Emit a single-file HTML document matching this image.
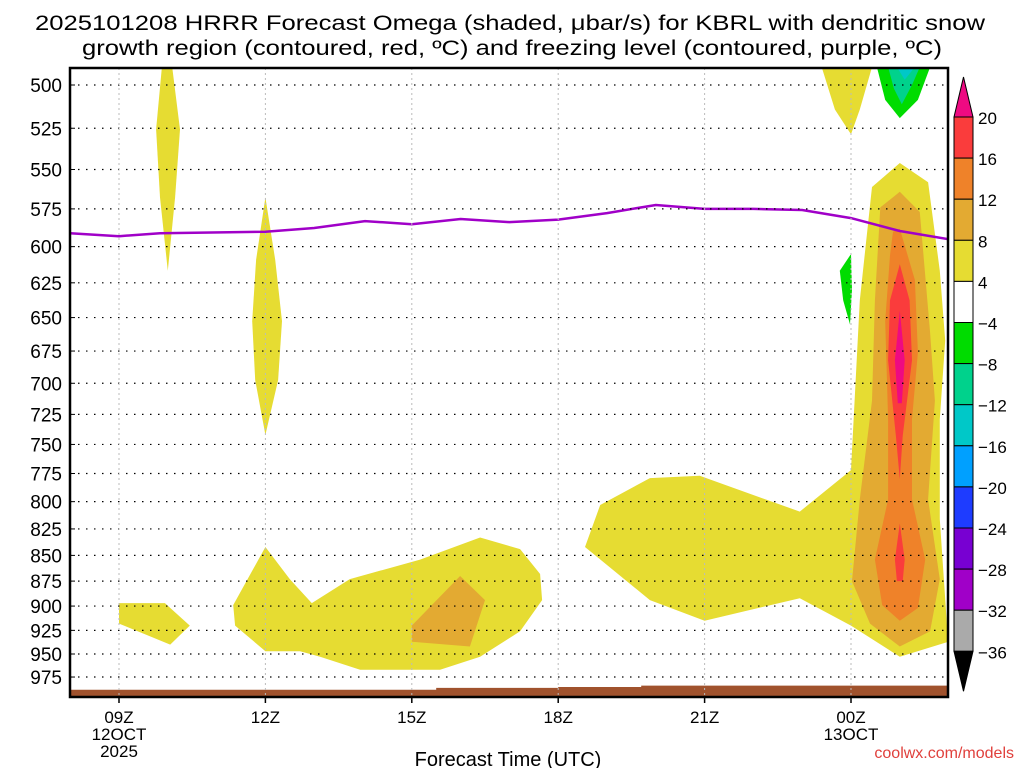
<!DOCTYPE html>
<html><head><meta charset="utf-8">
<style>
html,body{margin:0;padding:0;background:#fff;}
svg{display:block;font-family:"Liberation Sans",sans-serif;}
</style></head>
<body>
<svg id="chart" width="1024" height="768" viewBox="0 0 1024 768" xmlns="http://www.w3.org/2000/svg">
<text x="510" y="30" font-size="21" text-anchor="middle" textLength="950" lengthAdjust="spacingAndGlyphs">2025101208 HRRR Forecast Omega (shaded, μbar/s) for KBRL with dendritic snow</text>
<text x="512" y="55" font-size="21" text-anchor="middle" textLength="860" lengthAdjust="spacingAndGlyphs">growth region (contoured, red, ºC) and freezing level (contoured, purple, ºC)</text>
<g id="plot"></g>
<g id="cbar"></g>
<text x="508" y="766" font-size="20" text-anchor="middle">Forecast Time (UTC)</text>
<text x="1014" y="758" font-size="16" fill="#e0403c" text-anchor="end">coolwx.com/models</text>
</svg>
<script>
// axes data
const pressureTicks = [500,525,550,575,600,625,650,675,700,725,750,775,800,825,850,875,900,925,950,975];
const hourTicks = [9,12,15,18,21,24];
const hourLabels = ["09Z","12Z","15Z","18Z","21Z","00Z"];
const hourSubLabels = [["12OCT","2025"],[],[],[],[],["13OCT"]];
// freezing level (hPa) by forecast hour
const fzHours = [8,9,9.84,12,13,14.04,15,16,17,18,19,20,21,22,23,24,25,26];
const fzPressure = [591,593,591,590,587.5,583,585,581.6,583.6,582,577.7,572.5,575,575,575.7,581,589.5,595];
// ground surface pressure
const sfcHours = [8,15.5,15.5,18,18,19.7,19.7,26];
const sfcPressure = [989,989,987,987,986,986,984.5,984.5];
// omega contour regions: [hour, hPa]
const cYellowA = [[9.88,490],[10.09,490],[10.25,525.7],[10.15,567.6],[10.0,616.5],[9.84,567.6],[9.76,525.7]];
const cYellowB = [[12,567.6],[12.2,609],[12.34,652.6],[12.26,697.6],[12,742],[11.79,697.6],[11.73,652.6],[11.81,609]];
const cYellowC = [[9,897],[9.94,897],[10.45,920],[10.05,940],[9,918]];
const cYellowD = [[11.34,899],[12,842],[12.5,873],[12.95,897],[13.73,873],[15.17,854],[16.4,833],[17.22,844],[17.63,868],[17.67,894],[17.22,926],[16.4,953],[15.58,967],[13.94,967],[13.12,953],[12.71,947],[12,947],[11.38,920]];
const cGoldD = [[15,920],[15.99,870],[16.5,894],[16.19,942],[15,937]];
const cYellowE = [[18.55,842],[18.86,803],[19.88,779],[20.9,777],[22.95,809],[24,772],[24.18,637.5],[24.43,561],[25,546],[25.58,558],[25.82,616.5],[25.93,667],[25.82,729],[25.82,816],[25.99,937],[25,953],[24,920],[22.95,892],[21,915],[19.88,894]];
const cGoldE = [[24.6,574],[25,564],[25.41,577],[25.62,661],[25.72,714],[25.58,798],[25.82,873],[25.62,926],[25,942],[24.39,918],[24.02,875],[24.18,798],[24.43,714],[24.49,637.5]];
const cOrangeE = [[24.86,590],[25,588],[25.31,623],[25.37,676],[25.25,729],[25.25,798],[25.52,854],[25.37,902],[25,915],[24.64,899],[24.49,854],[24.76,798],[24.76,729],[24.7,652.6],[24.8,606]];
const cRedE1 = [[25,612],[25.2,637.5],[25.25,682],[25.06,743],[25,780],[24.92,743],[24.76,682],[24.8,637.5]];
const cRedE2 = [[25,820],[25.1,854],[25.06,875],[24.94,875],[24.9,854]];
const cMagE = [[25,645],[25.1,682],[25.04,716],[24.96,716],[24.9,682]];
const cYellowF = [[23.4,490],[24.43,490],[24.18,514],[24,528.6],[23.67,514]];
const cGreenF = [[24.53,490],[25.62,490],[25.37,508.5],[25,519],[24.7,508.5]];
const cTealF = [[24.76,490],[25.41,490],[25.25,500],[25.04,511],[24.88,502]];
const cCyanF = [[24.94,490],[25.31,490],[25.1,497]];
const cGreenG = [[23.77,616.5],[24,605],[24.02,630],[23.98,655],[23.84,637.5]];

const X0=70,X1=948,Y0=68,Y1=697;
const xs = h => 119 + (h-9)*48.8;
const ys = p => 85 + 886.5*Math.log(p/500);
const NS="http://www.w3.org/2000/svg";
const plot=document.getElementById('plot');
function mk(tag,attrs,parent){const e=document.createElementNS(NS,tag);for(const k in attrs)e.setAttribute(k,attrs[k]);(parent||plot).appendChild(e);return e;}

// clip
const defs=mk('defs',{});
const cp=mk('clipPath',{id:'clip'},defs);
mk('rect',{x:X0,y:Y0,width:X1-X0,height:Y1-Y0},cp);
const gClip=mk('g',{'clip-path':'url(#clip)'});

const regions=[
 [cYellowA,'#e6dc32','omega-4-8-upper-spike'],[cYellowB,'#e6dc32','omega-4-8-midlevel-spike'],
 [cYellowC,'#e6dc32','omega-4-8-small-patch'],[cYellowD,'#e6dc32','omega-4-8-lowlevel-blob'],
 [cGoldD,'#e3aa32','omega-8-12-lowlevel-core'],[cYellowE,'#e6dc32','omega-4-8-right-blob'],
 [cGoldE,'#e3aa32','omega-8-12-right-blob'],[cOrangeE,'#ef8229','omega-12-16-right-blob'],
 [cRedE1,'#fa3c3c','omega-16-20-upper-core'],[cRedE2,'#fa3c3c','omega-16-20-lower-core'],
 [cMagE,'#ee0a82','omega-above-20-core'],[cYellowF,'#e6dc32','omega-4-8-top-patch'],
 [cGreenF,'#00dc00','omega-neg4-neg8-top'],[cTealF,'#00d28c','omega-neg8-neg12-top'],
 [cCyanF,'#00c8c8','omega-neg12-neg16-top'],[cGreenG,'#00dc00','omega-neg4-neg8-small']
];
regions.forEach(r=>{
 const e=mk('polygon',{points:r[0].map(d=>xs(d[0]).toFixed(1)+','+ys(d[1]).toFixed(1)).join(' '),fill:r[1]},gClip);
 
 
});
// grid
pressureTicks.forEach(p=>{
 const l=mk('line',{x1:X0,x2:X1,y1:ys(p),y2:ys(p),stroke:'#000','stroke-width':1.2,'stroke-dasharray':'1.5 6.5'});
 
 
});
hourTicks.forEach(h=>{
 const l=mk('line',{x1:xs(h),x2:xs(h),y1:Y0,y2:Y1,stroke:'#bbb','stroke-width':1,'stroke-dasharray':'2 3'});
 
 
});
// freezing level
const fz=mk('polyline',{points:fzHours.map((h,i)=>xs(h).toFixed(1)+','+ys(fzPressure[i]).toFixed(1)).join(' '),fill:'none',stroke:'#a000c8','stroke-width':2.5},gClip);


// ground
let gp=sfcHours.map((h,i)=>xs(h).toFixed(1)+','+ys(sfcPressure[i]).toFixed(1));
gp.push(xs(26)+','+Y1, xs(8)+','+Y1);
const gr=mk('polygon',{points:gp.join(' '),fill:'#a0522d'},gClip);


// frame
const fr=mk('rect',{x:X0,y:Y0,width:X1-X0,height:Y1-Y0,fill:'none',stroke:'#000','stroke-width':2.5});


// y labels
pressureTicks.forEach(p=>{
 const t=mk('text',{x:62,y:ys(p)+7,'font-size':19,'text-anchor':'end'});
 t.textContent=p;
 
 
 mk('line',{x1:X0,x2:X0+5,y1:ys(p),y2:ys(p),stroke:'#000','stroke-width':1});
});
// x labels
hourTicks.forEach((h,i)=>{
 mk('line',{x1:xs(h),x2:xs(h),y1:Y1,y2:Y1+6,stroke:'#000','stroke-width':1.5});
 const t=mk('text',{x:xs(h),y:723,'font-size':17,'text-anchor':'middle'});
 t.textContent=hourLabels[i];
 
 
 hourSubLabels[i].forEach((s,j)=>{
  const u=mk('text',{x:xs(h),y:740+j*17,'font-size':17,'text-anchor':'middle'});
  u.textContent=s;
  
  
 });
});

// colorbar
const cbLevels=[20,16,12,8,4,-4,-8,-12,-16,-20,-24,-28,-32,-36];
const cbColors=['#fa3c3c','#ef8229','#e3aa32','#e6dc32','#ffffff','#00dc00','#00d28c','#00c8c8','#00a0ff','#1e3cff','#7800d2','#a000c8','#aaaaaa'];
const cbEl=document.getElementById('cbar');
const CX=954,CW=19,CT=117,CS=41.1;
function mkc(tag,attrs){return mk(tag,attrs,cbEl);}
const cbTop=mkc('polygon',{points:`${CX},${CT} ${CX+CW},${CT} ${CX+CW/2},${CT-40}`,fill:'#ee0a82',stroke:'#000','stroke-width':1});


cbColors.forEach((c,i)=>{
 const r=mkc('rect',{x:CX,y:CT+i*CS,width:CW,height:CS,fill:c,stroke:'#000','stroke-width':1});
 
 
});
const yb=CT+cbColors.length*CS;
const cbBot=mkc('polygon',{points:`${CX},${yb} ${CX+CW},${yb} ${CX+CW/2},${yb+40}`,fill:'#000',stroke:'#000','stroke-width':1});


cbLevels.forEach((v,i)=>{
 const t=mkc('text',{x:978,y:CT+i*CS+7,'font-size':17});
 t.textContent=v<0?'\u2212'+(-v):String(v);
 
 
});
</script>
</body></html>
